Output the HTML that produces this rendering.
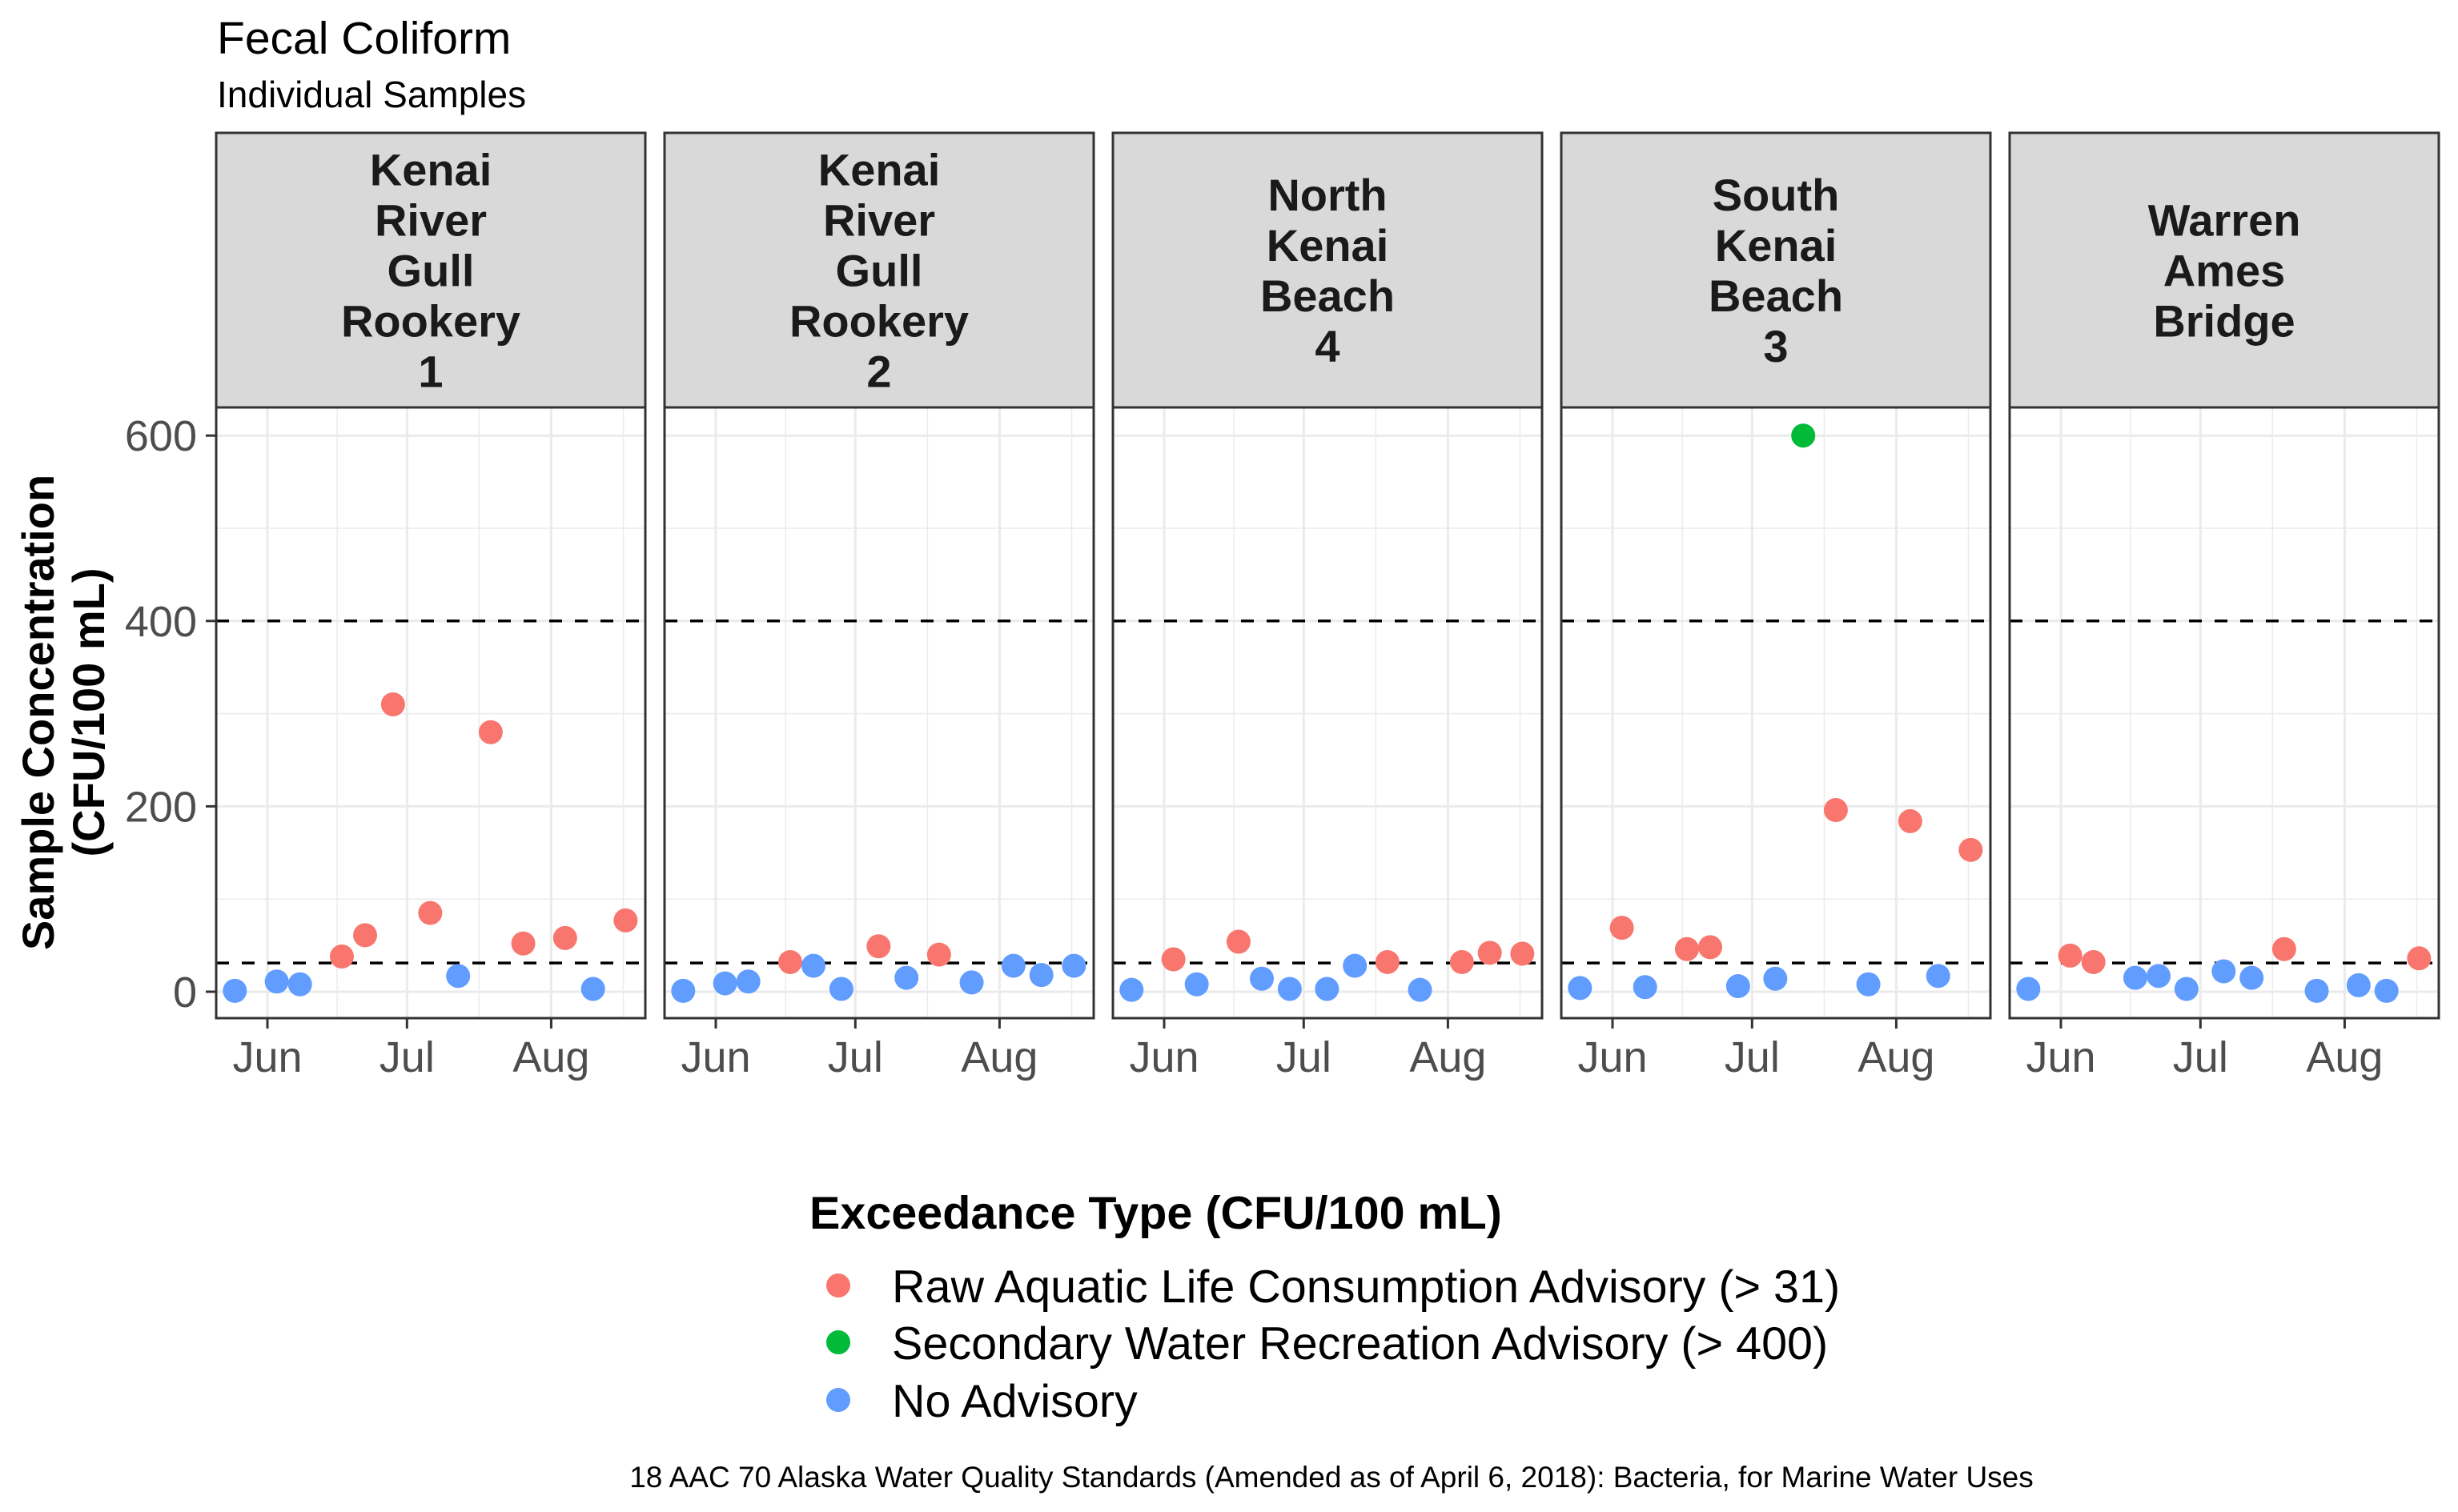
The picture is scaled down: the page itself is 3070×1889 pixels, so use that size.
<!DOCTYPE html>
<html><head><meta charset="utf-8"><style>
html,body{margin:0;padding:0;background:#fff;}
svg{display:block;font-family:"Liberation Sans",Arial,sans-serif;}
</style></head><body>
<svg id="chart" width="3070" height="1889" viewBox="0 0 3070 1889" xmlns="http://www.w3.org/2000/svg">
<rect width="3070" height="1889" fill="#fff"/>
<text x="271" y="67" font-size="57" fill="#000">Fecal Coliform</text>
<text x="271" y="134" font-size="46" fill="#000">Individual Samples</text>
<g transform="translate(67,890) rotate(-90)">
<text x="0" y="0" text-anchor="middle" font-size="56" font-weight="bold" fill="#000">Sample Concentration</text>
<text x="0" y="63" text-anchor="middle" font-size="56" font-weight="bold" fill="#000">(CFU/100 mL)</text>
</g>
<g id="panels"></g>
<text x="1011" y="1535" font-size="57.5" font-weight="bold" fill="#000">Exceedance Type (CFU/100 mL)</text>
<g>
<circle cx="1047" cy="1606" r="15" fill="#F8766D"/>
<text x="1114" y="1627" font-size="57.5" fill="#000">Raw Aquatic Life Consumption Advisory (&gt; 31)</text></g>
<g>
<circle cx="1047" cy="1677" r="15" fill="#00BA38"/>
<text x="1114" y="1698" font-size="57.5" fill="#000">Secondary Water Recreation Advisory (&gt; 400)</text></g>
<g>
<circle cx="1047" cy="1749" r="15" fill="#619CFF"/>
<text x="1114" y="1770" font-size="57.5" fill="#000">No Advisory</text></g>
<text x="1663" y="1858" text-anchor="middle" font-size="37" fill="#000">18 AAC 70 Alaska Water Quality Standards (Amended as of April 6, 2018): Bacteria, for Marine Water Uses</text>
</svg>
<script>
// Data
const panelNames = [["Kenai","River","Gull","Rookery","1"],["Kenai","River","Gull","Rookery","2"],["North","Kenai","Beach","4"],["South","Kenai","Beach","3"],["Warren","Ames","Bridge"]];
// sample days, days since Jun 1
const sampleDays = [-7,2,7,16,21,27,35,41,48,55,64,70,77];
const valuesP1 = [1,11,8,38,61,310,85,17,280,52,58,3,77];
const valuesP2 = [1,9,11,32,28,3,49,15,40,10,28,18,28];
const valuesP3 = [2,35,8,54,14,3,3,28,32,2,32,42,41];
const valuesP4 = [4,69,5,46,48,6,14,600,196,8,184,17,153];
const valuesP5 = [3,39,32,15,17,3,22,15,46,1,7,1,36];
const seriesValues = [valuesP1,valuesP2,valuesP3,valuesP4,valuesP5];
const yTicks = [0,200,400,600];
const yMinor = [100,300,500];
const xTickLabels = ["Jun","Jul","Aug"];
const xTickDays = [0,30,61];
const xMinorDays = [15,45.5,76.5];
const thresholds = [31,400];

const NS="http://www.w3.org/2000/svg";
const root=document.getElementById('panels');
const PW=536, TOP=509, BOT=1272, STRIP_TOP=166;
function xs(left,d){return left+64+d*5.81;}
function ys(v){return 1239-v*1.158;}
function mk(tag,attrs,parent){const e=document.createElementNS(NS,tag);for(const k in attrs)e.setAttribute(k,attrs[k]);parent.appendChild(e);return e;}
function color(v){return v>400?"#00BA38":(v>31?"#F8766D":"#619CFF");}

for(let p=0;p<5;p++){
  const left=270+p*560, right=left+PW;
  const g=mk('g',{},root);
  
  
  const st=mk('rect',{x:left,y:STRIP_TOP,width:PW,height:TOP-STRIP_TOP,fill:'#d9d9d9',stroke:'#333',"stroke-width":3},g);
  
  
  const lines=panelNames[p];
  const cy=(STRIP_TOP+TOP)/2, lh=63;
  lines.forEach((t,i)=>{
    const tx=mk('text',{x:left+PW/2,y:cy+(i-(lines.length-1)/2)*lh+20,"text-anchor":"middle","font-size":56,"font-weight":"bold",fill:'#1a1a1a'},g);
    tx.textContent=t;
    
    
  });
  mk('rect',{x:left,y:TOP,width:PW,height:BOT-TOP,fill:'#fff'},g);
  yMinor.forEach(v=>{const l=mk('line',{x1:left,x2:right,y1:ys(v),y2:ys(v),stroke:'#ebebeb',"stroke-width":1.5},g);
    
    });
  xMinorDays.forEach(d=>{const x=xs(left,d);if(x<right){const l=mk('line',{x1:x,x2:x,y1:TOP,y2:BOT,stroke:'#ebebeb',"stroke-width":1.5},g);
    
    }});
  yTicks.forEach(v=>{const l=mk('line',{x1:left,x2:right,y1:ys(v),y2:ys(v),stroke:'#ebebeb',"stroke-width":3},g);
    
    });
  xTickDays.forEach((d,i)=>{const x=xs(left,d);
    const l=mk('line',{x1:x,x2:x,y1:TOP,y2:BOT,stroke:'#ebebeb',"stroke-width":3},g);
    
    
    const tk=mk('line',{x1:x,x2:x,y1:BOT,y2:BOT+13,stroke:'#333',"stroke-width":3},g);
    
    
    const lb=mk('text',{x:x,y:1339,"text-anchor":"middle","font-size":54,fill:'#4d4d4d'},g);
    lb.textContent=xTickLabels[i];
    
    
  });
  thresholds.forEach(v=>{const l=mk('line',{x1:left,x2:right,y1:ys(v),y2:ys(v),stroke:'#000',"stroke-width":3.5,"stroke-dasharray":"16 16"},g);
    
    });
  const vals=seriesValues[p];
  sampleDays.forEach((d,i)=>{
    const c=mk('circle',{cx:xs(left,d),cy:ys(vals[i]),r:15,fill:color(vals[i])},g);
    
    
  });
  const bd=mk('rect',{x:left,y:TOP,width:PW,height:BOT-TOP,fill:'none',stroke:'#333',"stroke-width":3},g);
  
  
  if(p===0){
    yTicks.forEach(v=>{
      const tk=mk('line',{x1:257,x2:left,y1:ys(v),y2:ys(v),stroke:'#333',"stroke-width":3},g);
      
      
      const lb=mk('text',{x:246,y:ys(v)+19,"text-anchor":"end","font-size":54,fill:'#4d4d4d'},g);
      lb.textContent=v;
      
      
    });
  }
}
</script>
</body></html>
